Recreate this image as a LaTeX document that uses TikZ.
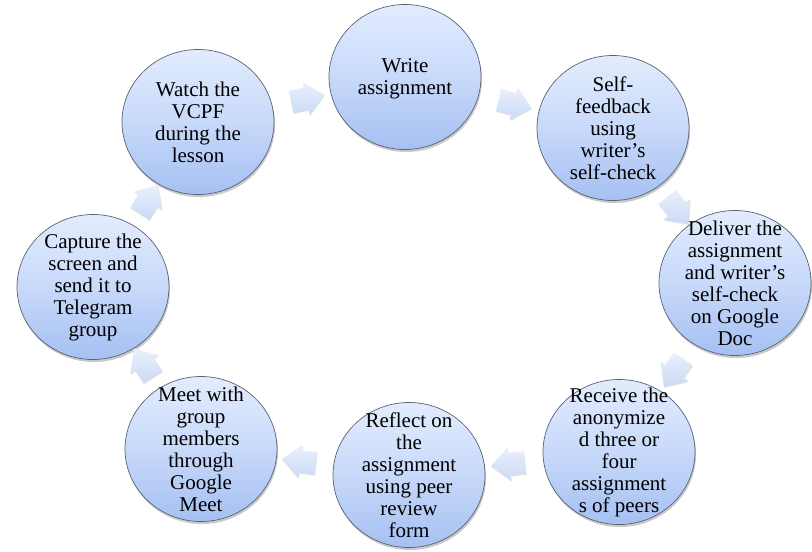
\documentclass[tikz,border=0pt]{standalone}
\usepackage{fontspec}
\setmainfont{Liberation Serif}
\usetikzlibrary{shapes.geometric,shapes.arrows,shadows,calc}
\definecolor{cTop}{HTML}{E2ECFD}
\definecolor{cMid}{HTML}{C8D9FA}
\definecolor{cBot}{HTML}{A5C0F2}
\definecolor{cEdge}{HTML}{5A6272}
\definecolor{aTop}{HTML}{EAF0FC}
\definecolor{aBot}{HTML}{CBDAF6}
\tikzset{
  stage/.style={ellipse, minimum width=152pt, minimum height=145pt, inner sep=0pt,
    draw=cEdge, line width=0.7pt, top color=cTop, bottom color=cBot, middle color=cMid,
    drop shadow={shadow xshift=1pt, shadow yshift=-2.5pt, opacity=0.3, fill=black!70}},
  stagetext/.style={align=center, inner sep=0pt, font=\rmfamily\fontsize{21}{22}\selectfont},
  blockarrow/.style={single arrow, inner xsep=0pt, inner ysep=11pt, minimum height=34pt,
    single arrow head extend=5.5pt, single arrow tip angle=84, draw=none,
    top color=aTop, bottom color=aBot,
    drop shadow={shadow xshift=0.6pt, shadow yshift=-1.2pt, opacity=0.12, fill=black}},
}
\begin{document}
\begin{tikzpicture}[x=1pt,y=1pt]
\useasboundingbox (0,0) rectangle (812,-552);
\node[stage] (s1) at (198,-122) {};
\node[stage] (s2) at (405,-77) {};
\node[stage] (s3) at (613,-128) {};
\node[stage] (s4) at (735,-283) {};
\node[stage] (s5) at (619,-452) {};
\node[stage] (s6) at (409,-475) {};
\node[stage] (s7) at (201,-449) {};
\node[stage] (s8) at (93,-287) {};
\node[stagetext] (t1) at (s1) {Watch the\\VCPF\\during the\\lesson};
\node[stagetext] (t2) at ($(s2)+(0,-2)$) {Write\\assignment};
\node[stagetext] (t3) at (s3) {Self-\\feedback\\using\\writer’s\\self-check};
\node[stagetext] (t4) at (s4) {Deliver the\\assignment\\and writer’s\\self-check\\on Google\\Doc};
\node[stagetext] (t5) at (s5) {Receive the\\anonymize\\d three or\\four\\assignment\\s of peers};
\node[stagetext] (t6) at (s6) {Reflect on\\the\\assignment\\using peer\\review\\form};
\node[stagetext] (t7) at (s7) {Meet with\\group\\members\\through\\Google\\Meet};
\node[stagetext] (t8) at (s8) {Capture the\\screen and\\send it to\\Telegram\\group};
\foreach \a/\b in {s1/s2,s2/s3,s3/s4,s4/s5,s5/s6,s6/s7,s7/s8,s8/s1}{
  \path (\a.center) -- node[midway, sloped, allow upside down, blockarrow] {} (\b.center);
}
\end{tikzpicture}
\end{document}
